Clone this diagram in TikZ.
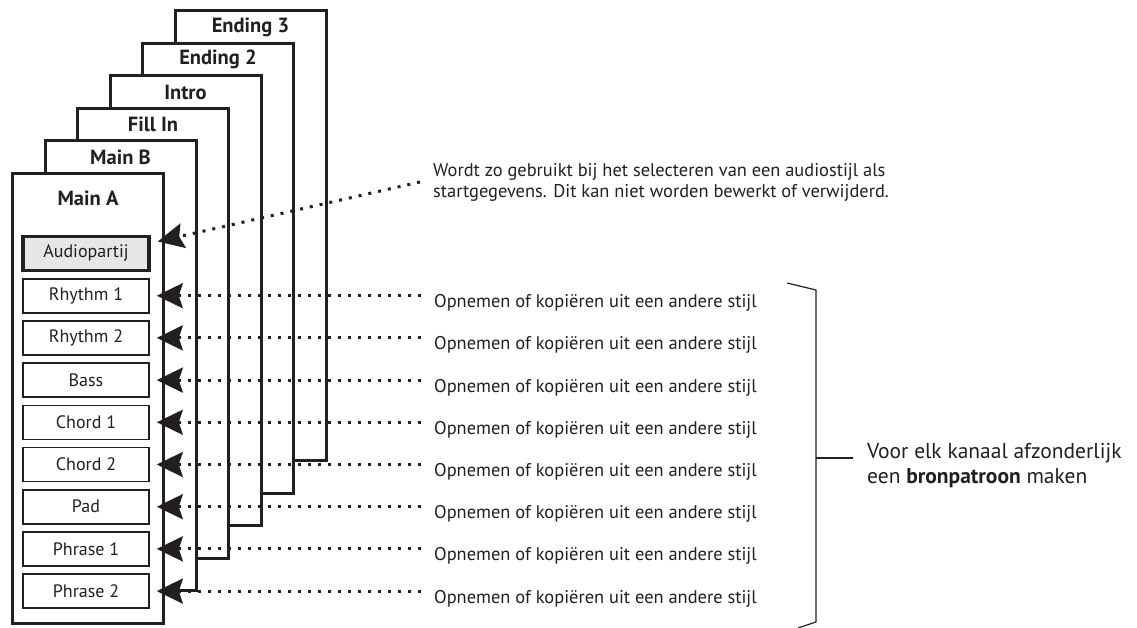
\documentclass[tikz,border=0pt]{standalone}
\usepackage{fontspec}
\setmainfont{PT Sans}
\usetikzlibrary{arrows.meta}
\definecolor{ink}{HTML}{231F20}
\definecolor{audiofill}{HTML}{E6E6E6}
\begin{document}
\begin{tikzpicture}[x=1pt,y=-1pt,
  page/.style={draw=ink, line width=3pt, fill=white, minimum width=151pt, minimum height=450pt, inner sep=0pt, anchor=north west},
  ptitle/.style={font=\fontsize{20.5}{24}\selectfont\bfseries, text=ink, inner sep=0pt},
  chan/.style={draw=ink, line width=1.6pt, fill=white, minimum width=126pt, minimum height=34pt, inner sep=0pt, font=\fontsize{18}{21}\selectfont, text=ink},
  audio/.style={chan, line width=3.5pt, fill=audiofill},
  dotline/.style={draw=ink, line width=3pt, dash pattern=on 3pt off 7pt, -{Stealth[length=26pt, width=25pt, inset=4pt]}},
  note/.style={font=\fontsize{18.4}{21}\selectfont, text=ink, anchor=west, inner sep=0pt, align=left},
  onote/.style={font=\fontsize{18.4}{21}\selectfont, text=ink, anchor=base west, inner sep=0pt},
  bignote/.style={font=\fontsize{21.5}{25}\selectfont, text=ink, anchor=west, inner sep=0pt, align=left},
  brace/.style={draw=ink, line width=1.2pt},
]
\useasboundingbox (0,0) rectangle (1137,628);
\fill[white] (0,0) rectangle (1137,628);

% pages, back to front
\node[page] (pE3) at (173.5,9) {};
\node[ptitle] (tE3) at ([yshift=-18pt]pE3.north) {Ending 3};
\node[page] (pE2) at (141,41.6) {};
\node[ptitle] (tE2) at ([yshift=-18pt]pE2.north) {Ending 2};
\node[page] (pIn) at (108.5,74.2) {};
\node[ptitle] (tIn) at ([yshift=-18pt]pIn.north) {Intro};
\node[page] (pFi) at (76,106.8) {};
\node[ptitle] (tFi) at ([yshift=-18pt]pFi.north) {Fill In};
\node[page] (pMB) at (43.5,139.4) {};
\node[ptitle] (tMB) at ([yshift=-18pt]pMB.north) {Main B};
\node[page] (pMA) at (11,172) {};
\node[ptitle] (tMA) at ([yshift=-26pt]pMA.north) {Main A};

% channels
\node[audio] (cAu) at (86,253.5) {Audiopartij};
\node[chan] (cR1) at (86,295.7) {Rhythm 1};
\node[chan] (cR2) at (86,337.9) {Rhythm 2};
\node[chan] (cBa) at (86,380.1) {Bass};
\node[chan] (cC1) at (86,422.3) {Chord 1};
\node[chan] (cC2) at (86,464.5) {Chord 2};
\node[chan] (cPa) at (86,506.7) {Pad};
\node[chan] (cP1) at (86,548.9) {Phrase 1};
\node[chan] (cP2) at (86,591.1) {Phrase 2};

% top note
\node[note] (nAu) at (433,182) {Wordt zo gebruikt bij het selecteren van een audiostijl als\\startgegevens. Dit kan niet worden bewerkt of verwijderd.};
\coordinate (sAu) at (420,182);
\draw[dotline] (sAu) -- ([xshift=7pt,yshift=12pt]cAu.east);

% side notes
\foreach \n/\y in {R1/295.7,R2/337.9,Ba/380.1,C1/422.3,C2/464.5,Pa/506.7,P1/548.9,P2/591.1}{
  \node[onote] (o\n) at (434,\y+12) {Opnemen of kopiëren uit een andere stijl};
  \coordinate (s\n) at (421,\y);
  \draw[dotline] (s\n) -- ([xshift=7pt]c\n.east);
}

% bracket
\coordinate (bTop0) at (787,283);
\coordinate (bTop) at (816,290);
\coordinate (bBot) at (816,622);
\coordinate (bBot0) at (798,628);
\coordinate (bMid) at (816,458);
\node[bignote] (nBr) at (867,466) {Voor elk kanaal afzonderlijk\\een \textbf{bronpatroon} maken};
\draw[brace] (bTop0) -- (bTop) -- (bBot) -- (bBot0);
\draw[brace] (bMid) -- ++(37,0);
\end{tikzpicture}
\end{document}
